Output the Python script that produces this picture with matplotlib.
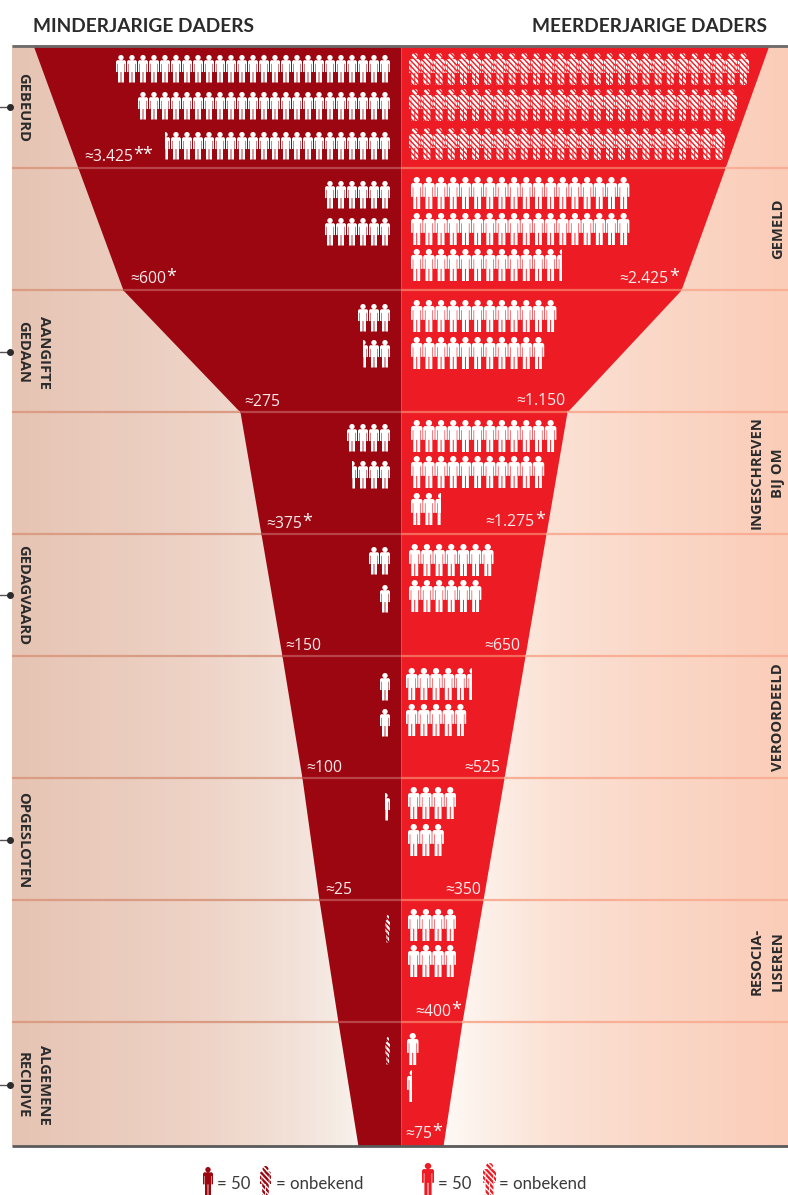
import matplotlib
matplotlib.use("Agg")
import matplotlib.pyplot as plt
import numpy as np
from matplotlib.colors import LinearSegmentedColormap
from matplotlib.patches import PathPatch, Rectangle
from matplotlib.path import Path
from matplotlib.collections import LineCollection

plt.rcParams['font.family'] = ['Open Sans', 'DejaVu Sans']

DARK = '#9C0610'
RED = '#ED1C24'
INK = '#2B2B2B'

titles = ['MINDERJARIGE DADERS', 'MEERDERJARIGE DADERS']

# funnel outline
band_edges = [45, 168, 290, 412, 534, 656, 778, 900, 1022, 1146]
left_edge = [33, 78, 123, 240, 261, 282, 302, 319, 338, 358]
right_edge = [769, 725, 681, 567, 546, 525, 504, 483, 462, 443]

# number of figures per row, one figure = 50 daders
minor_rows = [[25, 23, 20.5], [6, 6], [3, 2.5], [4, 3.5], [2, 1], [1, 1], [0.5], [0.5], [0.5]]
major_rows = [[28, 27, 26], [18, 18, 12.5], [12, 11], [12, 11, 2.5], [7, 6], [5.5, 5], [4, 3], [4, 4], [1, 0.5]]
minor_unknown = [False, False, False, False, False, False, False, True, True]
major_unknown = [True, False, False, False, False, False, False, False, False]

minor_labels = ['≈3.425', '≈600', '≈275', '≈375', '≈150', '≈100', '≈25']
minor_stars = ['**', '*', '', '*', '', '', '']
major_labels = ['≈2.425', '≈1.150', '≈1.275', '≈650', '≈525', '≈350', '≈400', '≈75']
major_stars = ['*', '', '*', '', '', '', '*', '*']

stages_left = [['GEBEURD'], ['GEDAAN', 'AANGIFTE'], ['GEDAGVAARD'], ['OPGESLOTEN'], ['RECIDIVE', 'ALGEMENE']]
stages_right = [['GEMELD'], ['INGESCHREVEN', 'BIJ OM'], ['VEROORDEELD'], ['RESOCIA-', 'LISEREN']]

# layout
minor_row_y = [[55, 92, 132], [181, 218], [304, 340], [424, 461], [547, 585], [673, 709], [793], [915], [1037]]
major_row_y = [[53, 89, 128], [177, 213, 249], [300, 337], [420, 456, 493], [544, 580], [668, 704], [787, 824], [909, 945], [1033, 1070]]
major_x0 = [409, 411, 411, 411, 409, 406, 408, 408, 407]
minor_label_xy = [(84, 157), (130, 279), (244, 402), (266, 524), (285, 646), (306, 768), (325, 890)]
major_label_xy = [(619, 279), (516, 401), (485, 522), (484, 646), (464, 768), (445, 890), (415, 1012), (405, 1134)]
left_stage_y = [107, 352, 595, 840, 1085]
right_stage_y = [229, 473, 717, 961]

BODY = [(.10, .19), (.90, .19), (1, .24), (1, .62), (.85, .62), (.85, .32), (.80, .32), (.80, 1), (.54, 1),
        (.54, .62), (.46, .62), (.46, 1), (.20, 1), (.20, .32), (.15, .32), (.15, .62), (0, .62), (0, .24), (.10, .19)]


def person_path(x, y, w, h):
    head = Path.unit_circle().transformed(
        matplotlib.transforms.Affine2D().scale(w * .27, h * .095).translate(x + w / 2, y + h * .095))
    pts = np.array(BODY) * [w, h] + [x, y]
    return Path.make_compound_path(head, Path(pts, closed=True))


def draw_person(ax, x, y, w, h, color, unknown=False, keep=None):
    path = person_path(x, y, w, h)
    clip = None
    if keep == 'right':
        clip = Rectangle((x + w * .55, y - 2), w * .45 + 1, h + 4, transform=ax.transData)
    elif keep == 'left':
        clip = Rectangle((x - 1, y - 2), w * .45 + 1, h + 4, transform=ax.transData)
    if unknown:
        step = 5.2
        segs = [[(x - h - 4 + i * step, y - 2), (x - 2 + i * step, y + h + 2)] for i in range(int((w + h + 10) / step) + 1)]
        lc = LineCollection(segs, colors=color, linewidths=1.7, zorder=5)
        ax.add_collection(lc)
        if keep == 'right':
            # sliver of a hatched figure: narrow it into the right part of the cell
            path = person_path(x + w * .55, y, w * .45, h)
        elif keep == 'left':
            path = person_path(x, y, w * .45, h)
        lc.set_clip_path(path, ax.transData)
    else:
        p = PathPatch(path, fc=color, ec='none', zorder=5)
        ax.add_patch(p)
        if clip is not None:
            p.set_clip_path(clip)


fig = plt.figure(figsize=(7.88, 11.95), dpi=100)
ax = fig.add_axes([0, 0, 1, 1])

# background gradient
stops = [(12, '#E6C4B4'), (100, '#EACBBC'), (200, '#EED3C6'), (300, '#F3E2D9'), (345, '#F6EEE7'), (360, '#F9F4EF'),
         (401, '#FFFFFF'), (445, '#FEF9F5'), (550, '#FBE2D5'), (650, '#FAD8C8'), (788, '#FBCDB8')]
span = stops[-1][0] - stops[0][0]
cmap = LinearSegmentedColormap.from_list('bg', [((s - 12) / span, c) for s, c in stops])
ax.imshow(np.linspace(0, 1, 776).reshape(1, -1), cmap=cmap, extent=(12, 788, 1146, 45), aspect='auto', zorder=0)

# funnel halves
ax.fill_betweenx(band_edges, left_edge, 401, color=DARK, lw=0, zorder=1)
ax.fill_betweenx(band_edges, 401, right_edge, color=RED, lw=0, zorder=1)

# band lines, a different tint on each surface
for y, le, re in zip(band_edges[1:-1], left_edge[1:-1], right_edge[1:-1]):
    for a, b, c in [(12, le, '#DB9C85'), (le, 401, '#B8444A'), (401, re, '#F4695A'), (re, 788, '#F9AE96')]:
        ax.plot([a, b], [y, y], color=c, lw=1.6, zorder=2, solid_capstyle='butt')
ax.plot([12, 788], [45.5, 45.5], color='#6B6B6B', lw=2, zorder=3, solid_capstyle='butt')
ax.plot([12, 788], [1146, 1146], color='#5A5A5A', lw=2, zorder=3, solid_capstyle='butt')

# pictogram rows, minderjarig
W_MIN, H_MIN, PITCH_MIN = 10, 27.5, 11
for rows, ys, unk in zip(minor_rows, minor_row_y, minor_unknown):
    for n, y in zip(rows, ys):
        whole = int(n)
        for i in range(whole):
            draw_person(ax, 390 - W_MIN - i * PITCH_MIN, y, W_MIN, H_MIN, 'white', unk)
        if n > whole:
            draw_person(ax, 390 - W_MIN - whole * PITCH_MIN, y, W_MIN, H_MIN, 'white', unk, keep='right')

# pictogram rows, meerderjarig
W_MAJ, H_MAJ, PITCH_MAJ = 11.5, 32, 12.17
for rows, ys, unk, x0 in zip(major_rows, major_row_y, major_unknown, major_x0):
    for n, y in zip(rows, ys):
        whole = int(n)
        for i in range(whole):
            draw_person(ax, x0 + i * PITCH_MAJ, y, W_MAJ, H_MAJ, 'white', unk)
        if n > whole:
            draw_person(ax, x0 + whole * PITCH_MAJ, y, W_MAJ, H_MAJ, 'white', unk, keep='left')


def value_label(txt, stars, xy):
    t = ax.text(xy[0], xy[1], txt, color='white', fontsize=11.3, va='center', ha='left', alpha=.92, zorder=6)
    if stars:
        ax.annotate(stars, xy=(1, 1), xycoords=t, xytext=(0.5, -11), textcoords='offset points',
                    color='white', fontsize=13, va='bottom', ha='left', zorder=6)


for txt, st, xy in zip(minor_labels, minor_stars, minor_label_xy):
    value_label(txt, st, xy)
for txt, st, xy in zip(major_labels, major_stars, major_label_xy):
    value_label(txt, st, xy)

# stage names
for lines, y in zip(stages_left, left_stage_y):
    for k, line in enumerate(lines):
        ax.text(23 + 21 * k, y, line, rotation=-90, ha='center', va='center', fontsize=10.6,
                fontweight='bold', color=INK, zorder=6)
    ax.plot([0, 10], [y, y], color='#555555', lw=1, zorder=6)
    ax.plot([10], [y], 'o', color=INK, ms=4, zorder=6)
for lines, y in zip(stages_right, right_stage_y):
    n = len(lines)
    for k, line in enumerate(lines):
        ax.text(778 - 21 * (n - 1 - k), y, line, rotation=90, ha='center', va='center', fontsize=10.6,
                fontweight='bold', color=INK, zorder=6)

# titles
ax.text(33, 26, titles[0], fontsize=13.8, fontweight='bold', family=['Lato', 'DejaVu Sans'], color=INK, ha='left', va='center')
ax.text(767, 26, titles[1], fontsize=13.8, fontweight='bold', family=['Lato', 'DejaVu Sans'], color=INK, ha='right', va='center')

# legend
draw_person(ax, 203, 1167, 10, 28, DARK)
draw_person(ax, 260, 1166, 11, 29, DARK, True)
draw_person(ax, 422, 1163, 12, 32, RED)
draw_person(ax, 483, 1163, 13, 32, RED, True)
for x, s in [(217, '= 50'), (276, '= onbekend'), (438, '= 50'), (499, '= onbekend')]:
    ax.text(x, 1184, s, fontsize=12.1, family=['Lato', 'DejaVu Sans'], color='#3A3A3A', ha='left', va='center')

ax.set_xlim(0, 788)
ax.set_ylim(1195, 0)
ax.axis('off')
fig.savefig('out.png', dpi=100)
